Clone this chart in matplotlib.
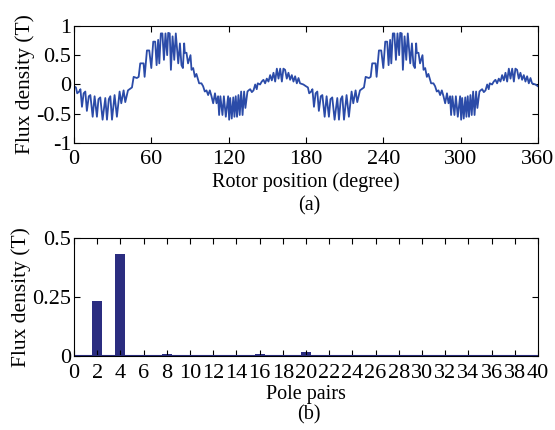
#!/usr/bin/env python3
# -*- coding: utf-8 -*-
import matplotlib
matplotlib.use("Agg")
import matplotlib.pyplot as plt
import numpy as np

# (a) air-gap flux density over one half period (0-180 deg);
# the second half of the waveform repeats it
half_pos = [0, 1.5, 2.5, 4, 5, 6.2, 7.5, 8.8, 10, 11.5, 12.7, 14.5, 16, 17.8, 19, 20.4,
            22.2, 24.3, 25.6, 27, 28.2, 29.5, 31.5, 33.3, 35.4, 36.7, 38.5, 39.8, 41.9,
            43.7, 45, 46.3, 48.8, 50.2, 51.4, 54, 54.8, 56.6, 58.4, 60, 61.5, 63, 64.1,
            65.3, 66.2, 67.4, 68.6, 69.8, 71, 72.3, 73.1, 74.3, 75.2, 76.5, 77.8, 79,
            80.9, 82.2, 83.4, 84.5, 85.5, 86, 87.3, 88.5, 90.4, 91.2, 92.5, 93.8, 95,
            97.1, 98.9, 100.2, 101.5, 102.8, 104.1, 105.4, 106.7, 108, 109.4, 110.6,
            111.8, 112.6, 113.6, 115.2, 116.3, 117.8, 119.6, 120.4, 121.2, 122.4, 123.6,
            124.5, 125.5, 126.5, 127.6, 128.6, 129.7, 130.8, 132, 133, 134.6, 135.5,
            136.7, 138, 139.3, 140.6, 141.8, 142.6, 144.4, 145.7, 147, 148.3, 149.6,
            150.9, 152.2, 153.5, 154.8, 156.1, 157.4, 158.7, 160, 161.3, 162.5, 163.8,
            165.1, 166.4, 167.7, 169, 170.3, 171.6, 172.9, 174.2, 175.4, 178]
half_flux = [-0.03, -0.05, -0.15, -0.12, -0.08, -0.38, -0.15, -0.12, -0.45, -0.2, -0.18,
             -0.55, -0.2, -0.55, -0.25, -0.22, -0.6, -0.23, -0.6, -0.25, -0.2, -0.6,
             -0.18, -0.55, -0.12, -0.32, -0.1, -0.3, -0.1, -0.07, -0.05, 0.13, 0.11, 0.13,
             0.36, 0.36, 0.13, 0.58, 0.58, 0.28, 0.73, 0.73, 0.33, 0.76, 0.36, 0.87, 0.87,
             0.42, 0.87, 0.5, 0.88, 0.87, 0.25, 0.82, 0.42, 0.87, 0.36, 0.7, 0.33, 0.28,
             0.7, 0.54, 0.54, 0.36, 0.5, 0.25, 0.28, 0.13, 0.18, 0.02, 0.02, -0.03, -0.12,
             -0.1, -0.18, -0.1, -0.2, -0.32, -0.15, -0.32, -0.2, -0.52, -0.2, -0.52, -0.2,
             -0.55, -0.2, -0.6, -0.23, -0.58, -0.22, -0.55, -0.2, -0.55, -0.18, -0.52,
             -0.12, -0.52, -0.12, -0.4, -0.12, -0.1, -0.08, -0.13, -0.1, 0.0, -0.08, 0.02,
             0.0, 0.05, 0.08, 0.02, 0.1, 0.05, 0.16, 0.07, 0.2, 0.05, 0.27, 0.1, 0.27,
             0.05, 0.27, 0.25, 0.1, 0.2, 0.08, 0.16, 0.05, 0.14, 0.02, 0.11, 0.02, 0.0]

# (b) harmonic spectrum
pole_pairs = list(range(1, 41))
amplitude = [0.002, 0.235, 0.002, 0.435, 0.002, 0.002, 0.002, 0.007, 0.002, 0.002,
             0.002, 0.002, 0.002, 0.006, 0.002, 0.009, 0.002, 0.002, 0.002, 0.016,
             0.002, 0.002, 0.002, 0.002, 0.002, 0.002, 0.002, 0.006, 0.002, 0.002,
             0.002, 0.002, 0.002, 0.002, 0.002, 0.002, 0.002, 0.002, 0.002, 0.005]

pos = np.concatenate([half_pos, np.array(half_pos) + 180, [360]])
flux = np.concatenate([half_flux, half_flux, [half_flux[0]]])

bar_color = '#2b2d80'

plt.rcParams['font.family'] = ['Liberation Serif', 'DejaVu Serif']
plt.rcParams['font.size'] = 16
plt.rcParams['xtick.direction'] = 'in'
plt.rcParams['ytick.direction'] = 'in'
plt.rcParams['xtick.top'] = True
plt.rcParams['ytick.right'] = True
plt.rcParams['xtick.major.size'] = 4
plt.rcParams['ytick.major.size'] = 4

fig = plt.figure(figsize=(5.55, 4.3), dpi=100)

ax1 = fig.add_axes([0.1333, 0.667, 0.836, 0.273])
ax1.plot(pos, flux, color='#2b4ba8', linewidth=1.3)
ax1.set_xlim(0, 360)
ax1.set_ylim(-1, 1)
ax1.set_xticks(np.arange(0, 361, 60))
ax1.set_yticks([-1, -0.5, 0, 0.5, 1])
ax1.set_yticklabels(['-1', '-0.5', '0', '0.5', '1'])
ax1.set_xlabel('Rotor position (degree)', fontsize=14.5, labelpad=2.5)
ax1.set_ylabel('Flux density (T)', fontsize=15.5, labelpad=1)
ax1.tick_params(axis='x', pad=5)
ax1.tick_params(axis='y', pad=2)

ax2 = fig.add_axes([0.1333, 0.172, 0.836, 0.274])
ax2.bar(pole_pairs, amplitude, width=0.85, color=bar_color)
ax2.axhline(0, color=bar_color, linewidth=1.5)
ax2.set_xlim(0, 40)
ax2.set_ylim(0, 0.5)
ax2.set_xticks(np.arange(0, 41, 2))
ax2.set_yticks([0, 0.25, 0.5])
ax2.set_yticklabels(['0', '0.25', '0.5'])
ax2.set_xlabel('Pole pairs', fontsize=14.5, labelpad=1.5)
ax2.set_ylabel('Flux density (T)', fontsize=15.5, labelpad=1)
ax2.tick_params(axis='x', pad=6)
ax2.tick_params(axis='y', pad=2)

fig.text(0.557, 0.521, '(a)', ha='center', va='center', fontsize=14.5)
fig.text(0.557, 0.035, '(b)', ha='center', va='center', fontsize=14.5)

fig.savefig('out.png', dpi=100)
